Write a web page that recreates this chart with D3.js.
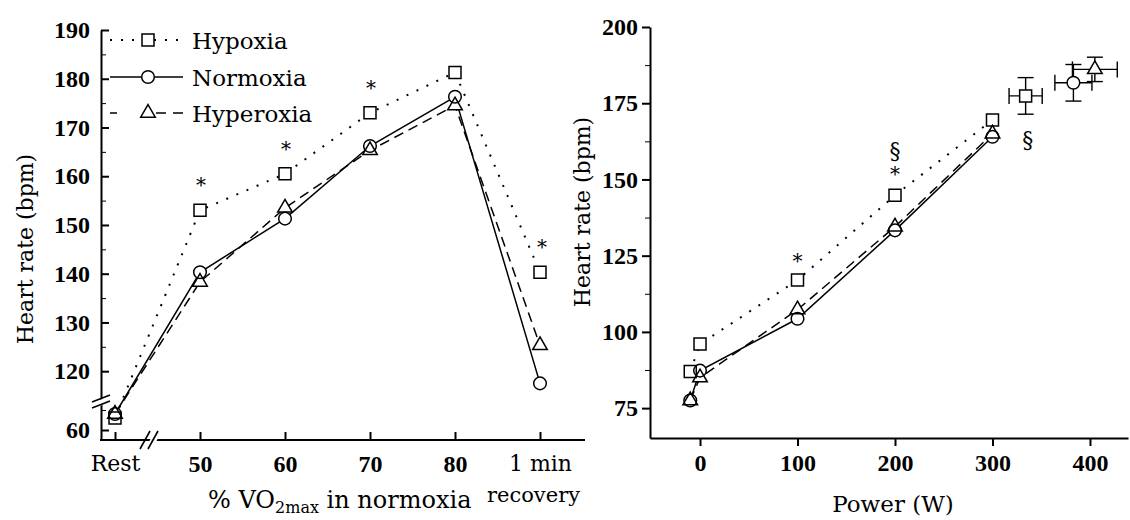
<!DOCTYPE html>
<html>
<head>
<meta charset="utf-8">
<script src="https://cdn.jsdelivr.net/npm/d3@7"></script>
<style>
  body { margin: 0; background: #fff; }
  svg { display: block; }
</style>
</head>
<body>
<div id="chart"></div>
<script>
/****************************** Data **********************************/
// left panel: exercise intensity (% VO2max in normoxia)
var leftCats      = ["Rest", "50", "60", "70", "80", "1 min"];
var leftHypoxia   = [63, 153, 160.5, 173, 181.3, 140.3];
var leftNormoxia  = [64, 140.3, 151.3, 166.2, 176.3, 117.5];
var leftHyperoxia = [64, 138.3, 153.5, 165.3, 174.5, 125.3];
var leftYTicks    = [60, 120, 130, 140, 150, 160, 170, 180, 190];
var leftYMinor    = [65, 125, 135, 145, 155, 165, 175, 185];
var leftStarCats  = ["50", "60", "70", "1 min"];

// right panel: absolute power (W)
var rightPower     = [-10, 0, 100, 200, 300];
var rightHypoxia   = [87, 96, 117, 144.8, 169.5];
var rightNormoxia  = [77.5, 87.3, 104.3, 133.3, 164];
var rightHyperoxia = [77.5, 85, 107.3, 134.5, 165];
var rightXTicks    = [0, 100, 200, 300, 400];
var rightYTicks    = [75, 100, 125, 150, 175, 200];
var rightYMinor    = [87.5, 112.5, 137.5, 162.5, 187.5];

// maximal exercise (mean +/- error in both directions)
var maxPower    = [334, 383, 405];
var maxPowerErr = [17, 19, 23];
var maxHR       = [177.4, 181.7, 186.1];
var maxHRErr    = [6, 6, 4];

var seriesNames = ["Hypoxia", "Normoxia", "Hyperoxia"];

/****************************** Styles **********************************/
var serif = "'DejaVu Serif', serif";
var numFont = "'Liberation Serif', serif";

var styles = [
  { symbol: d3.symbolSquare,   size: 144, dash: "2,9" },
  { symbol: d3.symbolCircle,   size: 125, dash: null },
  { symbol: d3.symbolTriangle, size: 92,  dash: "10,6" }
];

var svg = d3.select("#chart").append("svg")
  .attr("width", 1130)
  .attr("height", 520);

function drawMarkers(g, pts) {
  // white fill first so lines vanish under the markers, then all outlines
  ["fill", "outline"].forEach(function(pass){
    pts.forEach(function(p){
      g.append("path")
        .attr("d", d3.symbol().type(styles[p.s].symbol).size(styles[p.s].size)())
        .attr("transform", "translate(" + p.x + "," + p.y + ")")
        .attr("fill", pass == "fill" ? "#fff" : "none")
        .attr("stroke", pass == "fill" ? "none" : "#000")
        .attr("stroke-width", 1.5);
    });
  });
}

/****************************** Left panel **********************************/
var xL = d3.scalePoint().domain(leftCats).range([115, 540]);
// broken axis: rest values sit below the break
var yL = d3.scaleLinear()
  .domain([57.5, 68, 114.5, 190])
  .range([440, 398, 398, 30]);

var left = svg.append("g");
var leftData = [leftHypoxia, leftNormoxia, leftHyperoxia];

var lineL = d3.line()
  .x(function(d, i){ return xL(leftCats[i]); })
  .y(function(d){ return yL(d); });

leftData.forEach(function(vals, s){
  left.append("path")
    .attr("d", lineL(vals))
    .attr("fill", "none")
    .attr("stroke", "#000")
    .attr("stroke-width", s == 0 ? 2 : 1.5)
    .attr("stroke-dasharray", styles[s].dash);
});

var ptsL = [];
leftData.forEach(function(vals, s){
  vals.forEach(function(v, i){ ptsL.push({ s: s, x: xL(leftCats[i]), y: yL(v) }); });
});
drawMarkers(left, ptsL);

// asterisks over hypoxia
leftStarCats.forEach(function(c){
  var i = leftCats.indexOf(c);
  left.append("text")
    .attr("x", xL(c) + (c == "1 min" ? 2 : 1))
    .attr("y", yL(leftHypoxia[i]) - 30 + 12)
    .attr("text-anchor", "middle")
    .attr("font-family", serif)
    .attr("font-size", 20)
    .attr("fill", "#000")
    .attr("opacity", 0.99)
    .text("*");
});

// y axis
var yAxisL = left.append("g")
  .attr("transform", "translate(101,0)")
  .call(d3.axisLeft(yL).tickValues(leftYTicks).tickSize(-8).tickSizeOuter(0).tickPadding(11));
left.append("g")
  .attr("transform", "translate(101,0)")
  .call(d3.axisLeft(yL).tickValues(leftYMinor).tickSize(-5).tickSizeOuter(0).tickFormat(""))
  .select(".domain").remove();

// x axis
var xAxisL = left.append("g")
  .attr("transform", "translate(0,440)")
  .call(d3.axisBottom(xL).tickSize(-8).tickSizeOuter(0).tickPadding(15));
xAxisL.select(".domain").remove();
left.append("line")
  .attr("x1", 100).attr("x2", 585)
  .attr("y1", 440).attr("y2", 440)
  .attr("stroke", "#000").attr("stroke-width", 2);

[yAxisL, xAxisL].forEach(function(ax){
  ax.selectAll(".tick line").attr("stroke-width", 2);
  ax.select(".domain").attr("stroke-width", 2);
  ax.selectAll(".tick text")
    .attr("font-family", function(d){ return isNaN(+d) ? serif : numFont; })
    .attr("font-weight", function(d){ return isNaN(+d) ? "normal" : "bold"; })
    .attr("font-size", function(d){ return isNaN(+d) ? 22 : 24; })
    .attr("fill", "#000");
});

// axis breaks
left.append("polygon")
  .attr("points", "92,403 110,396 110,402 92,409")
  .attr("fill", "#fff");
[[92, 402, 110, 395], [92, 408, 110, 401]].forEach(function(b){
  left.append("line").attr("x1", b[0]).attr("y1", b[1]).attr("x2", b[2]).attr("y2", b[3])
    .attr("stroke", "#000").attr("stroke-width", 1.6);
});
left.append("polygon")
  .attr("points", "145,449 155,431 162,431 152,449")
  .attr("fill", "#fff");
[[140, 449, 150, 431], [148, 449, 158, 431]].forEach(function(b){
  left.append("line").attr("x1", b[0]).attr("y1", b[1]).attr("x2", b[2]).attr("y2", b[3])
    .attr("stroke", "#000").attr("stroke-width", 1.6);
});

// legend
var legRows = [40, 77, 113];
seriesNames.forEach(function(name, s){
  left.append("line")
    .attr("x1", 110).attr("x2", 183)
    .attr("y1", legRows[s]).attr("y2", legRows[s])
    .attr("stroke", "#000")
    .attr("stroke-width", s == 0 ? 2 : 1.5)
    .attr("stroke-dasharray", s == 2 ? "7,26,7,6,10" : styles[s].dash);
  left.append("text")
    .attr("x", 192).attr("y", legRows[s] + 9)
    .attr("font-family", serif)
    .attr("font-size", 23)
    .text(name);
});
drawMarkers(left, legRows.map(function(y, s){ return { s: s, x: 148, y: y }; }));

// titles
left.append("text")
  .attr("transform", "translate(33,249) rotate(-90)")
  .attr("text-anchor", "middle")
  .attr("font-family", serif)
  .attr("font-size", 22)
  .text("Heart rate (bpm)");

var xt = left.append("text")
  .attr("x", 208).attr("y", 508)
  .attr("font-family", serif)
  .attr("font-size", 24);
xt.append("tspan").text("% VO");
xt.append("tspan").attr("dy", 5).attr("font-size", 16).text("2max");
xt.append("tspan").attr("dy", -5).text(" in normoxia");

left.append("text")
  .attr("x", 487).attr("y", 502)
  .attr("font-family", serif)
  .attr("font-size", 21)
  .text("recovery");

/****************************** Right panel **********************************/
var xR = d3.scaleLinear().domain([-51.3, 439]).range([650, 1128]);
var yR = d3.scaleLinear().domain([65.2, 200]).range([438, 27]);

var right = svg.append("g");
var rightData = [rightHypoxia, rightNormoxia, rightHyperoxia];

var lineR = d3.line()
  .x(function(d, i){ return xR(rightPower[i]); })
  .y(function(d){ return yR(d); });

rightData.forEach(function(vals, s){
  right.append("path")
    .attr("d", lineR(vals))
    .attr("fill", "none")
    .attr("stroke", "#000")
    .attr("stroke-width", s == 0 ? 2 : 1.5)
    .attr("stroke-dasharray", styles[s].dash);
});

// error bars at maximal exercise
maxPower.forEach(function(p, s){
  var cx = xR(p), cy = yR(maxHR[s]);
  var x0 = xR(p - maxPowerErr[s]), x1 = xR(p + maxPowerErr[s]);
  var y0 = yR(maxHR[s] + maxHRErr[s]), y1 = yR(maxHR[s] - maxHRErr[s]);
  var segs = [
    [x0, cy, x1, cy], [cx, y0, cx, y1],
    [x0, cy - 8, x0, cy + 8], [x1, cy - 8, x1, cy + 8],
    [cx - 8, y0, cx + 8, y0], [cx - 8, y1, cx + 8, y1]
  ];
  segs.forEach(function(b){
    right.append("line").attr("x1", b[0]).attr("y1", b[1]).attr("x2", b[2]).attr("y2", b[3])
      .attr("stroke", "#000").attr("stroke-width", 1.4);
  });
});

var ptsR = [];
rightData.forEach(function(vals, s){
  vals.forEach(function(v, i){ ptsR.push({ s: s, x: xR(rightPower[i]), y: yR(v) }); });
});
maxPower.forEach(function(p, s){ ptsR.push({ s: s, x: xR(p), y: yR(maxHR[s]) }); });
drawMarkers(right, ptsR);

// significance marks
function mark(x, cy, ch) {
  right.append("text")
    .attr("x", x)
    .attr("y", cy + (ch == "*" ? 12 : 7))
    .attr("text-anchor", "middle")
    .attr("font-family", serif)
    .attr("font-size", ch == "*" ? 20 : 22)
    .attr("fill", "#000")
    .attr("opacity", 0.99)
    .text(ch);
}
mark(xR(100), yR(rightHypoxia[2]) - 24, "*");
mark(xR(200), yR(rightHypoxia[3]) - 26, "*");
mark(xR(200), yR(rightHypoxia[3]) - 44, "§");
mark(xR(maxPower[0]) + 2, yR(maxHR[0]) + 44, "§");

// axes
var yAxisR = right.append("g")
  .attr("transform", "translate(650,0)")
  .call(d3.axisLeft(yR).tickValues(rightYTicks).tickSize(8).tickSizeOuter(0).tickPadding(4));
right.append("g")
  .attr("transform", "translate(650,0)")
  .call(d3.axisLeft(yR).tickValues(rightYMinor).tickSize(5).tickSizeOuter(0).tickFormat(""))
  .select(".domain").remove();
var xAxisR = right.append("g")
  .attr("transform", "translate(0,438)")
  .call(d3.axisBottom(xR).tickValues(rightXTicks).tickSize(8).tickSizeOuter(0).tickPadding(8));

[yAxisR, xAxisR].forEach(function(ax){
  ax.selectAll(".tick line").attr("stroke-width", 2);
  ax.select(".domain").attr("stroke-width", 2);
  ax.selectAll(".tick text")
    .attr("font-family", numFont)
    .attr("font-weight", "bold")
    .attr("font-size", 24)
    .attr("fill", "#000");
});

right.append("text")
  .attr("transform", "translate(590,212) rotate(-90)")
  .attr("text-anchor", "middle")
  .attr("font-family", serif)
  .attr("font-size", 22)
  .text("Heart rate (bpm)");

right.append("text")
  .attr("x", 893).attr("y", 512)
  .attr("text-anchor", "middle")
  .attr("font-family", serif)
  .attr("font-size", 23)
  .text("Power (W)");
</script>
</body>
</html>
